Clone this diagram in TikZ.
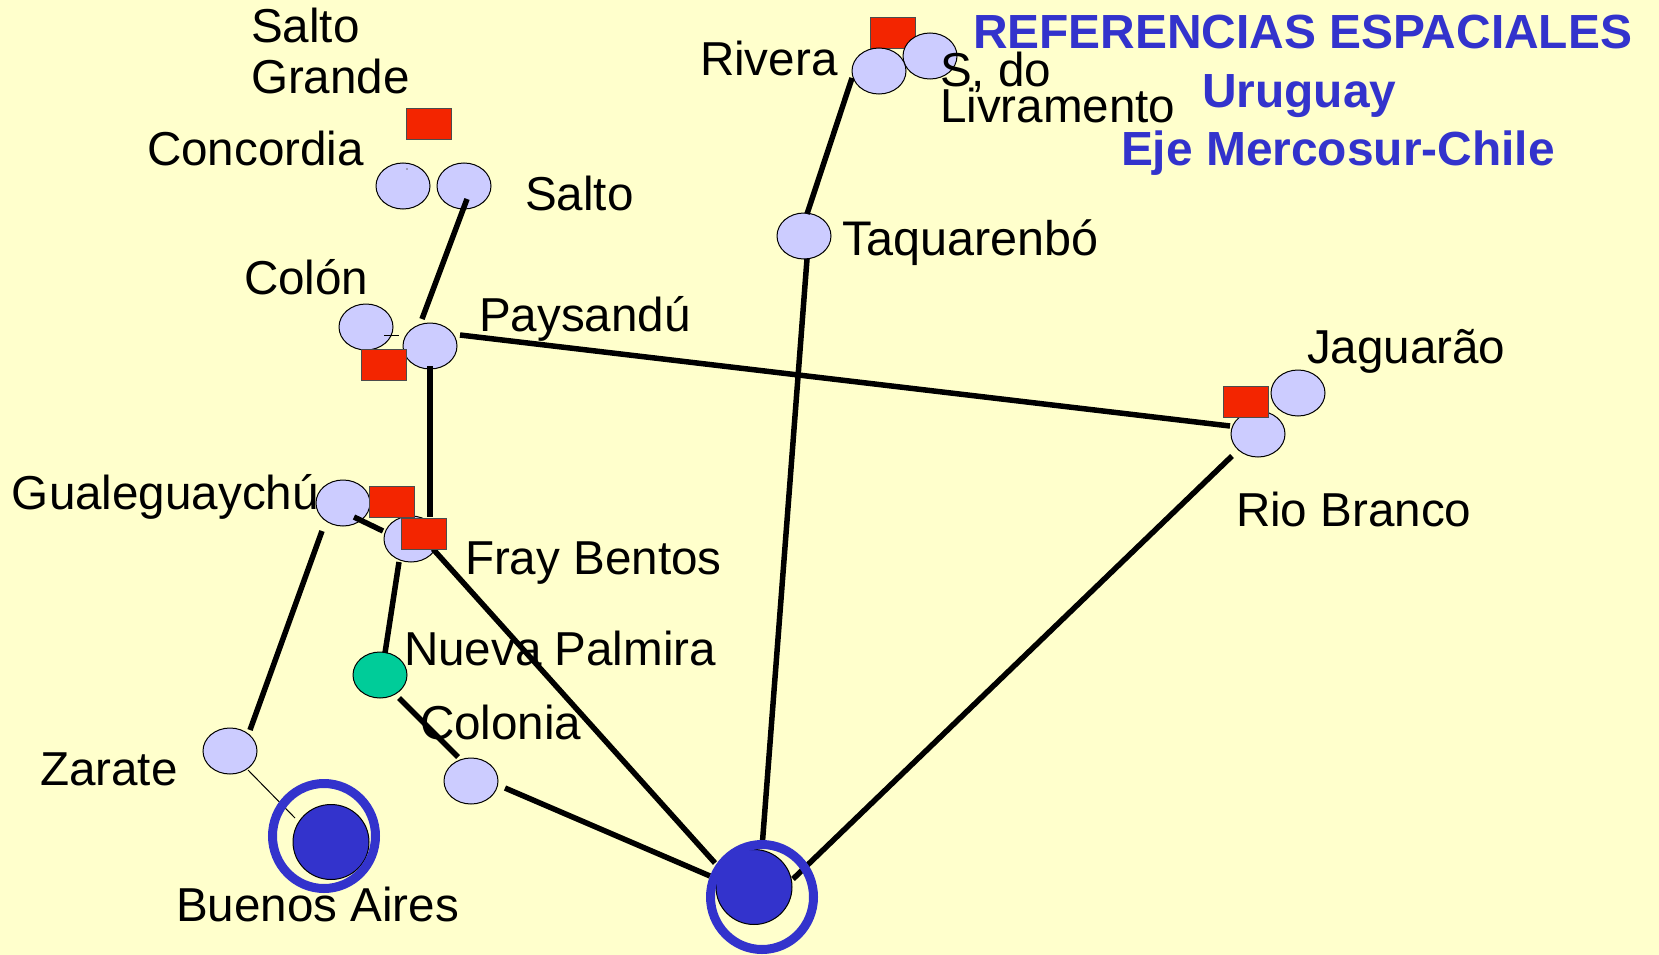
\documentclass[tikz,border=0pt]{standalone}
\usepackage{fontspec}
\setmainfont{Liberation Sans}
\usetikzlibrary{calc,shapes.geometric}
\definecolor{bgc}{HTML}{FFFFCC}
\definecolor{cityc}{HTML}{CCCCFF}
\definecolor{redc}{HTML}{F32500}
\definecolor{greenc}{HTML}{00CC99}
\definecolor{bluec}{HTML}{3333CC}
\tikzset{
  x=1pt,y=-1pt,
  city/.style={ellipse,draw=black,line width=1pt,fill=cityc,minimum width=54pt,minimum height=46pt,inner sep=0pt,outer sep=0pt},
  port/.style={city,fill=greenc},
  hub/.style={ellipse,draw=black,line width=1pt,fill=bluec,minimum width=76pt,minimum height=75pt,inner sep=0pt,outer sep=0pt},
  halo/.style={ellipse,draw=bluec,line width=9pt,minimum width=103pt,minimum height=105pt,inner sep=0pt,outer sep=0pt},
  border/.style={rectangle,draw=black!70,line width=1pt,fill=redc,minimum width=45pt,minimum height=31pt,inner sep=0pt,outer sep=0pt},
  link/.style={draw=black,line width=5.5pt},
  thinlink/.style={draw=black,line width=1pt},
  lbl/.style={anchor=base west,inner sep=0pt,outer sep=0pt,font=\fontsize{47.6}{51}\selectfont,text=black},
  lblwide/.style={lbl,font=\fontsize{48.6}{51}\selectfont},
  ttl/.style={anchor=base west,inner sep=0pt,outer sep=0pt,font=\fontsize{47.9}{51}\selectfont\bfseries,text=bluec}
}
\begin{document}
\begin{tikzpicture}
\useasboundingbox (0,0) rectangle (1659,955);
\fill[bgc] (0,0) rectangle (1659,955);
% border marker lying under the Rivera ellipses
\node[border] (rRivera) at (893,33) {};
% cities
\node[city] (concordia) at (403,186) {};
\node[city] (salto) at (464,186) {};
\node[city] (colon) at (366,327) {};
\node[city] (paysandu) at (430,346) {};
\node[city] (livramento) at (930,56) {};
\node[city] (rivera) at (879,71) {};
\node[city] (taquarembo) at (804,236) {};
\node[city] (jaguarao) at (1298,393) {};
\node[city] (riobranco) at (1258,434) {};
\node[city] (gualeguaychu) at (343,503) {};
\node[city] (fray) at (411,539) {};
\node[port] (palmira) at (380,675) {};
\node[city] (colonia) at (471,781) {};
\node[city] (zarate) at (230,751) {};
\node[hub] (baires) at (331,842) {};
\node[hub] (mvd) at (754,887) {};
% connectors
\draw[link] ($(salto)+(3,13)$) -- ($(paysandu)+(-8,-27)$);
\draw[thinlink] ($(colon)+(18,8)$) -- ($(paysandu)+(-31,-11)$);
\draw[link] ($(paysandu)+(30,-11)$) -- ($(riobranco)+(-28,-8)$);
\draw[link] ($(paysandu)+(0,20)$) -- ($(fray)+(19,-22)$);
\draw[link] ($(rivera)+(-27,7)$) -- ($(taquarembo)+(3,-22)$);
\draw[link] ($(taquarembo)+(3,23)$) -- ($(mvd)+(8,-39)$);
\draw[link] ($(gualeguaychu)+(11,14)$) -- ($(fray)+(-28,-8)$);
\draw[link] ($(gualeguaychu)+(-21,28)$) -- ($(zarate)+(20,-21)$);
\draw[link] ($(fray)+(-12,23)$) -- ($(palmira)+(5,-22)$);
\draw[link] ($(palmira)+(19,23)$) -- ($(colonia)+(-13,-24)$);
\draw[link] ($(colonia)+(34,7)$) -- ($(mvd)+(-44,-11)$);
\draw[link] ($(fray)+(22,10)$) -- ($(mvd)+(-39,-24)$);
\draw[link] ($(mvd)+(39,-8)$) -- ($(riobranco)+(-26,22)$);
\draw[thinlink] ($(zarate)+(18,19)$) -- ($(baires)+(-36,-24)$);
% halos
\node[halo] (haloBA) at (324,836) {};
\node[halo] (haloMV) at (762,897) {};
% border markers
\node[border] (rSalto) at (429,124) {};
\node[border] (rColon) at (384,365) {};
\node[border] (rGuale) at (392,501.5) {};
\node[border] (rFray) at (424,533.5) {};
\node[border] (rJag) at (1245.5,401.5) {};
\fill[black!60] (407,169) circle (0.8);
% labels
\node[lbl] (t1) at (251,43) {Salto};
\node[lbl] (t2) at (251,94) {Grande};
\node[lbl] (t3) at (147,165) {Concordia};
\node[lbl] (t4) at (525,210) {Salto};
\node[lbl] (t5) at (244,294) {Colón};
\node[lbl] (t6) at (479,331) {Paysandú};
\node[lblwide] (t7) at (842,255) {Taquarenbó};
\node[lbl] (t8) at (700,76) {Rivera};
\node[lbl] (t9) at (940,87) {S, do};
\node[lbl] (t10) at (940,123) {Livramento};
\node[lbl] (t11) at (1307,363) {Jaguarão};
\node[lbl] (t12) at (1236,526) {Rio Branco};
\node[lbl] (t13) at (12,509) {Gualeguaychú};
\node[lbl] (t14) at (465,574) {Fray Bentos};
\node[lbl] (t15) at (404,665) {Nueva Palmira};
\node[lbl] (t16) at (420,739) {Colonia};
\node[lbl] (t17) at (40,785) {Zarate};
\node[lbl] (t18) at (176,921) {Buenos Aires};
\node[ttl] (h1) at (973,49) {REFERENCIAS ESPACIALES};
\node[ttl] (h2) at (1202,108) {Uruguay};
\node[ttl] (h3) at (1121,165) {Eje Mercosur-Chile};
\end{tikzpicture}
\end{document}
